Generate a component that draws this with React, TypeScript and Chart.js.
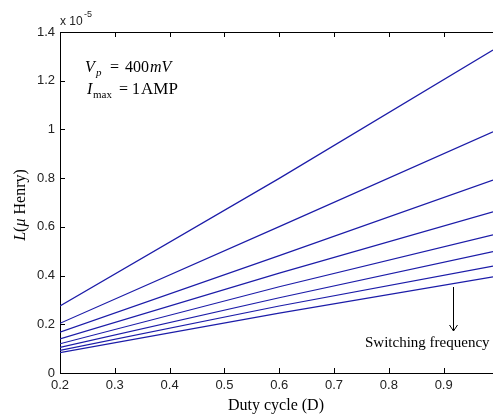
import React, { useEffect, useRef } from "react";
import { Chart, registerables } from "chart.js";

Chart.register(...registerables);

const dutyCycle = [0.2, 0.6, 0.99];
const line1 = [0.275, 0.799, 1.326];
const line2 = [0.204, 0.601, 0.99];
const line3 = [0.168, 0.482, 0.792];
const line4 = [0.14, 0.41, 0.662];
const line5 = [0.12, 0.354, 0.567];
const line6 = [0.105, 0.309, 0.498];
const line7 = [0.093, 0.275, 0.439];
const line8 = [0.084, 0.246, 0.395];
const seriesList = [line1, line2, line3, line4, line5, line6, line7, line8];
const xTicks = [0.2, 0.3, 0.4, 0.5, 0.6, 0.7, 0.8, 0.9];
const yTicks = [0, 0.2, 0.4, 0.6, 0.8, 1, 1.2, 1.4];

const LINE_COLOR = "#1c1ca8";
const SERIF = "'Liberation Serif', 'Times New Roman', serif";
const SANS = "'Liberation Sans', Arial, sans-serif";

const decorPlugin = {
  id: "decor",
  afterDraw(chart: any) {
    const ctx = chart.ctx;
    const a = chart.chartArea;
    const xs = chart.scales.x;
    const ys = chart.scales.y;
    ctx.save();
    ctx.strokeStyle = "#000";
    ctx.lineWidth = 1;
    // top border
    ctx.beginPath();
    ctx.moveTo(a.left, a.top + 0.5);
    ctx.lineTo(a.right, a.top + 0.5);
    ctx.stroke();
    // inward tick marks
    ctx.beginPath();
    for (const v of xTicks) {
      const px = Math.round(xs.getPixelForValue(v)) + 0.5;
      ctx.moveTo(px, a.bottom);
      ctx.lineTo(px, a.bottom - 5);
      ctx.moveTo(px, a.top);
      ctx.lineTo(px, a.top + 5);
    }
    for (const v of yTicks) {
      const py = Math.round(ys.getPixelForValue(v)) + 0.5;
      ctx.moveTo(a.left, py);
      ctx.lineTo(a.left + 5, py);
    }
    ctx.stroke();

    // exponent label
    ctx.fillStyle = "#222";
    ctx.textAlign = "left";
    ctx.textBaseline = "alphabetic";
    ctx.font = `12px ${SANS}`;
    ctx.fillText("x 10", 60, 25);
    ctx.font = `9px ${SANS}`;
    ctx.fillText("-5", 84, 17);

    // annotations
    ctx.fillStyle = "#000";
    ctx.font = `italic 16px ${SERIF}`;
    ctx.fillText("V", 85, 72);
    ctx.font = `italic 11px ${SERIF}`;
    ctx.fillText("p", 96, 76);
    ctx.font = `16px ${SERIF}`;
    ctx.fillText("=", 110, 72);
    ctx.fillText("400", 125, 72);
    ctx.font = `italic 16px ${SERIF}`;
    ctx.fillText("mV", 150, 72);

    ctx.font = `italic 16px ${SERIF}`;
    ctx.fillText("I", 87, 94);
    ctx.font = `11px ${SERIF}`;
    ctx.fillText("max", 93, 98);
    ctx.font = `16px ${SERIF}`;
    ctx.fillText("=", 119, 94);
    ctx.fillText("1", 132, 94);
    ctx.font = `17px ${SERIF}`;
    ctx.fillText("AMP", 141, 94);

    // switching frequency arrow
    ctx.beginPath();
    ctx.moveTo(453.5, 287);
    ctx.lineTo(453.5, 331);
    ctx.moveTo(449.5, 325);
    ctx.lineTo(453.5, 331);
    ctx.lineTo(457.5, 325);
    ctx.stroke();
    ctx.font = `15px ${SERIF}`;
    ctx.fillText("Switching frequency", 365, 347);

    // axis titles
    ctx.textAlign = "center";
    ctx.font = `16px ${SERIF}`;
    ctx.fillText("Duty cycle (D)", 276, 410);

    ctx.save();
    ctx.translate(25, 205);
    ctx.rotate(-Math.PI / 2);
    ctx.textAlign = "left";
    const p1 = "L";
    const p2 = "(";
    const p3 = "\u03bc";
    const p4 = " Henry)";
    ctx.font = `italic 16px ${SERIF}`;
    const w1 = ctx.measureText(p1).width;
    const w3 = ctx.measureText(p3).width;
    ctx.font = `16px ${SERIF}`;
    const w2 = ctx.measureText(p2).width;
    const w4 = ctx.measureText(p4).width;
    let x = -(w1 + w2 + w3 + w4) / 2;
    ctx.font = `italic 16px ${SERIF}`;
    ctx.fillText(p1, x, 0);
    x += w1;
    ctx.font = `16px ${SERIF}`;
    ctx.fillText(p2, x, 0);
    x += w2;
    ctx.font = `italic 16px ${SERIF}`;
    ctx.fillText(p3, x, 0);
    x += w3;
    ctx.font = `16px ${SERIF}`;
    ctx.fillText(p4, x, 0);
    ctx.restore();

    ctx.restore();
  },
};

export default function App() {
  const ref = useRef<HTMLCanvasElement | null>(null);
  useEffect(() => {
    if (!ref.current) return;
    const chart = new Chart(ref.current, {
      type: "line",
      data: {
        datasets: seriesList.map((s, i) => ({
          label: `f${i + 1}`,
          data: dutyCycle.map((d, j) => ({ x: d, y: s[j] })),
          borderColor: LINE_COLOR,
          borderWidth: 1.2,
          pointRadius: 0,
          fill: false,
          tension: 0,
        })),
      },
      options: {
        animation: false,
        responsive: false,
        maintainAspectRatio: false,
        layout: { padding: { top: 32, left: 0, right: 0, bottom: 0 } },
        plugins: {
          legend: { display: false },
          tooltip: { enabled: false },
          title: { display: false },
        },
        scales: {
          x: {
            type: "linear",
            min: 0.2,
            max: 0.99,
            afterFit: (s: any) => {
              s.height = 41;
            },
            afterBuildTicks: (s: any) => {
              s.ticks = xTicks.map((v) => ({ value: v }));
            },
            grid: { display: false, drawTicks: false },
            border: { display: true, color: "#000", width: 1 },
            ticks: {
              padding: 5,
              color: "#222",
              font: { family: SANS, size: 13 },
              callback: (v: any) => Number(v).toFixed(1),
              maxRotation: 0,
              autoSkip: false,
            },
          },
          y: {
            type: "linear",
            min: 0,
            max: 1.4,
            afterFit: (s: any) => {
              s.width = 60;
            },
            afterBuildTicks: (s: any) => {
              s.ticks = yTicks.map((v) => ({ value: v }));
            },
            grid: { display: false, drawTicks: false },
            border: { display: true, color: "#000", width: 1 },
            ticks: {
              padding: 5,
              color: "#222",
              font: { family: SANS, size: 13 },
              callback: (v: any) => {
                const n = Number(v);
                return n === 0 || n === 1 ? String(n) : n.toFixed(1);
              },
              autoSkip: false,
            },
          },
        },
      },
      plugins: [decorPlugin],
    });
    return () => chart.destroy();
  }, []);
  return (
    <div style={{ position: "fixed", left: 0, top: 0, width: 493, height: 414, background: "#fff", overflow: "hidden" }}>
      <canvas ref={ref} width={493} height={414} style={{ display: "block" }} />
    </div>
  );
}
